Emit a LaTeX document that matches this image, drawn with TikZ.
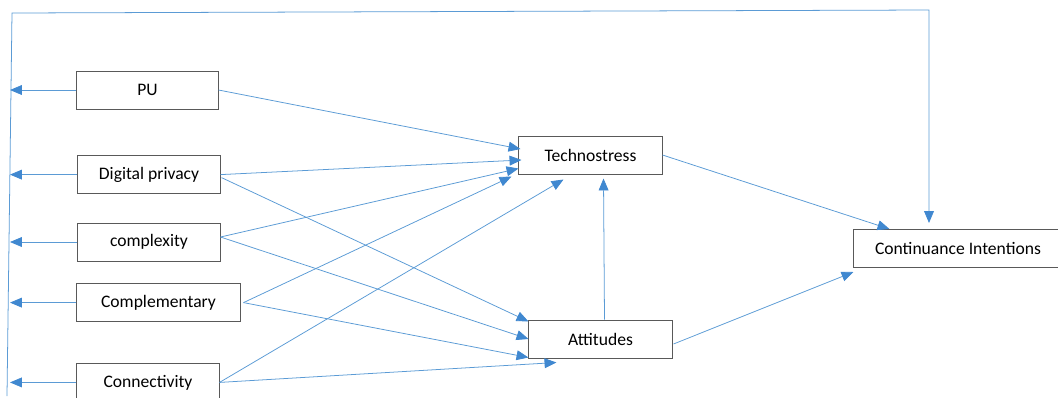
\documentclass[tikz,border=0pt]{standalone}
\usepackage{fontspec}
\setmainfont{Carlito}
\usetikzlibrary{arrows.meta,positioning,calc}
\definecolor{lnblue}{RGB}{91,155,213}
\definecolor{tipblue}{RGB}{64,136,208}
\tikzset{
  var/.style={rectangle, draw=black!65, line width=0.7pt, fill=white,
              minimum height=9.5mm, minimum width=35.5mm, align=center,
              inner sep=2pt, font=\fontsize{12.5}{15}\selectfont},
  ar/.style ={-{Triangle[length=8.5pt,width=7pt,color=tipblue]},
              line width=0.55pt, draw=lnblue},
}

\begin{document}
\begin{tikzpicture}[x=0.025cm, y=-0.025cm]
\useasboundingbox (0,0) rectangle (1058,397);

% predictors
\node[var, minimum width=35.25mm] (pu) at (147.5,90) {PU};
\node[var, below=11.4mm of pu.south west, anchor=north west, xshift=0.25mm] (dp) {Digital privacy};
\node[var, below=7.1mm of dp.south west, anchor=north west] (cx) {complexity};
\node[var, below=5.4mm of cx.south west, anchor=north west, xshift=-0.25mm, minimum width=40.75mm] (cm) {Complementary};
\node[var, below=10.2mm of cm.south west, anchor=north west] (cn) {Connectivity};

% mediators and outcome
\node[var, minimum width=35.75mm] (ts) at (590.5,155) {Technostress};
\node[var, minimum width=35.75mm] (at) at (600.5,339) {Attitudes};
\node[var, minimum width=52mm] (ci) at (958,248.5) {Continuance Intentions};

% feedback spine
\coordinate (spb) at (7,396);
\coordinate (spt) at (12,13);
\coordinate (spr) at (929,10);
\coordinate (spm) at (10,200);
\draw[ar] (spb) -- (spt) -- (spr) -- ($(ci.north)+(-29,-6)$);
\foreach \n in {pu,dp,cx,cm,cn}
  \draw[ar] (\n.west) -- (\n.west -| spm);

% into Technostress
\draw[ar] (pu.east) -- ($(ts.west)+(2,-6)$);
\draw[ar] (dp.east) -- ($(ts.west)+(3,5)$);
\draw[ar] ($(cx.east)+(0,-5)$) -- ($(ts.south west)+(0,-6)$);
\draw[ar] ($(cm.east)+(3,0)$) -- ($(ts.south west)+(-7,2)$);
\draw[ar] (cn.east) -- ($(ts.south)+(-27,5)$);
\draw[ar] ($(at.north)+(4,0)$) -- ($(ts.south)+(13,4)$);

% into Attitudes
\draw[ar] ($(dp.east)+(1,3)$) -- ($(at.north west)+(0,2)$);
\draw[ar] ($(cx.east)+(0,-5)$) -- (at.west);
\draw[ar] ($(cm.east)+(3,0)$) -- ($(at.south west)+(0,-1)$);
\draw[ar] (cn.east) -- ($(at.south west)+(28,4)$);

% into Continuance Intentions
\draw[ar] (ts.east) -- ($(ci.north west)+(36,0)$);
\draw[ar] ($(at.east)+(1,5)$) -- ($(ci.south west)+(0,4)$);

\end{tikzpicture}
\end{document}
